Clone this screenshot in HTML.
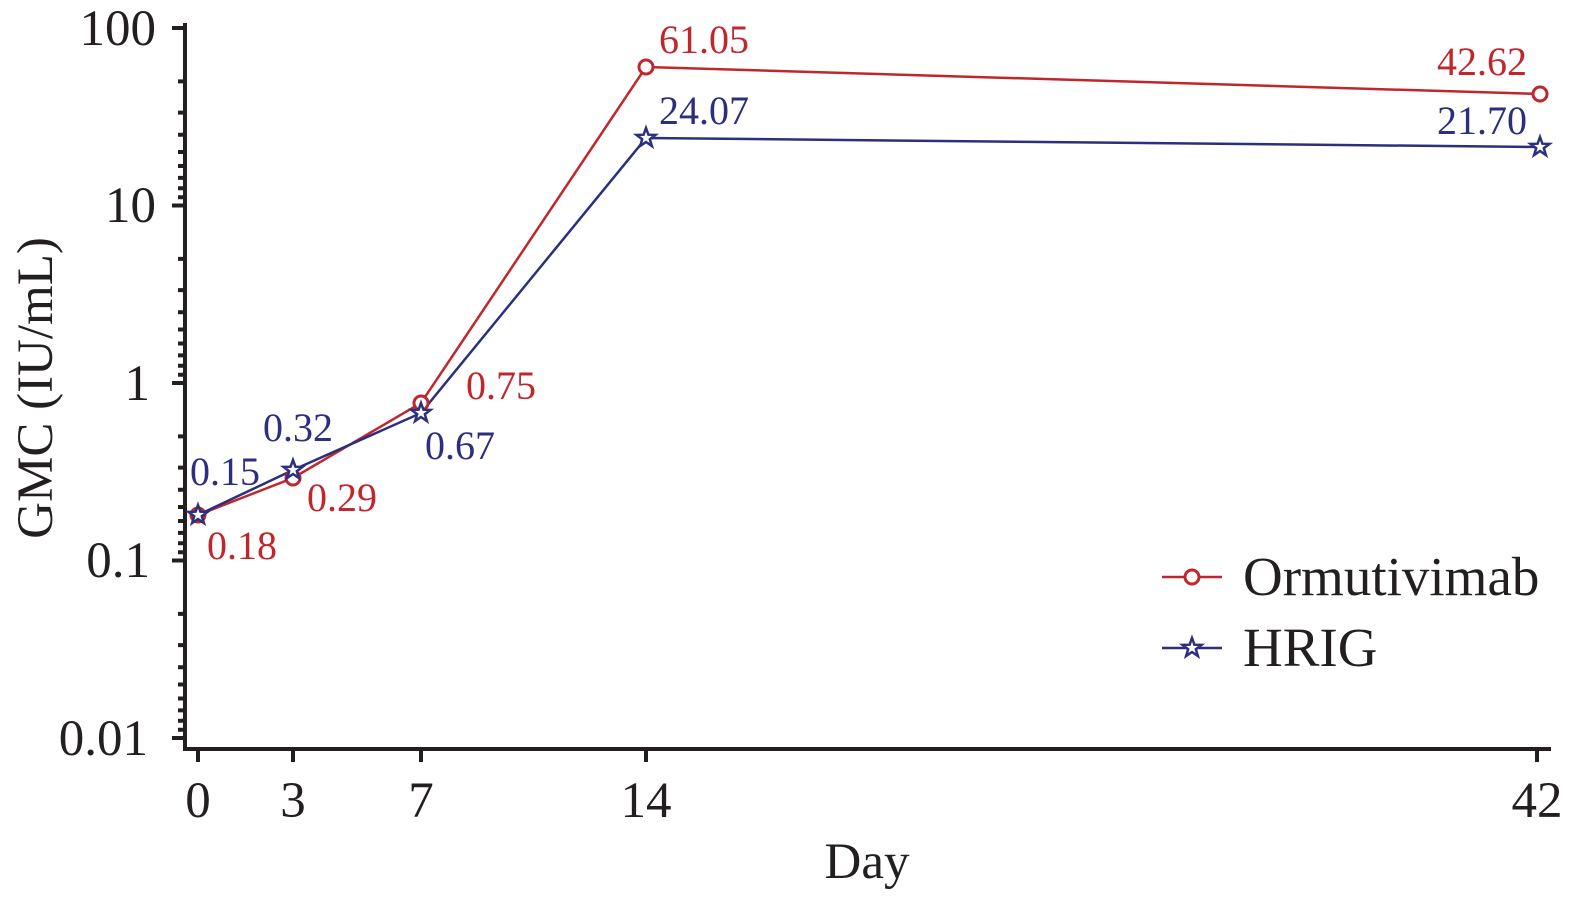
<!DOCTYPE html>
<html><head><meta charset="utf-8"><style>html,body{margin:0;padding:0;background:#fff}</style></head>
<body>
<svg width="1575" height="901" xmlns="http://www.w3.org/2000/svg" font-family="Liberation Serif, serif">
<g stroke="#231f20" stroke-width="4" fill="none">
<path d="M185,23 V749 H1551"/>
<path d="M172,28H185M172,205.5H185M172,383H185M172,560.5H185M172,738H185"/>
<path id="mn" d="M178,81.4H185M178,112.6H185M178,134.8H185M178,152H185M178,166H185M178,177.9H185M178,188.2H185M178,197.3H185"/>
<use href="#mn" y="177.5"/><use href="#mn" y="355"/><use href="#mn" y="532.5"/>
<path d="M198,749V762M293,749V762M421,749V762M646,749V762M1537,749V762"/>
</g>
<g font-size="51" fill="#231f20" text-anchor="end">
<text x="156" y="45">100</text><text x="156" y="222">10</text><text x="150" y="400">1</text><text x="150" y="577">0.1</text><text x="148" y="755">0.01</text>
</g>
<g font-size="51" fill="#231f20" text-anchor="middle">
<text x="198" y="817">0</text><text x="293" y="817">3</text><text x="421" y="817">7</text><text x="646" y="817">14</text><text x="1537" y="817">42</text>
<text x="867" y="878">Day</text>
<text transform="translate(52,388) rotate(-90)">GMC (IU/mL)</text>
</g>
<g fill="none" stroke-width="2.5">
<polyline stroke="#c0272d" points="198,515 293,478 421,403 646,67 1540,94"/>
<polyline stroke="#2b2f7e" points="198,515 293,470 421,413 646,138 1540,147"/>
</g>
<g fill="#fff" stroke="#c0272d" stroke-width="3">
<circle cx="198" cy="515" r="7"/><circle cx="293" cy="478" r="7"/><circle cx="421" cy="403" r="7"/><circle cx="646" cy="67" r="7"/><circle cx="1540" cy="94" r="7"/>
</g>
<defs><path id="st" d="M0,-10 L2.4,-3.3 9.5,-3.1 3.8,1.2 5.9,8.1 0,4 -5.9,8.1 -3.8,1.2 -9.5,-3.1 -2.4,-3.3Z"/></defs>
<g fill="#fff" stroke="#2b2f7e" stroke-width="2.5">
<use href="#st" x="198" y="515"/><use href="#st" x="293" y="470"/><use href="#st" x="421" y="413"/><use href="#st" x="646" y="138"/><use href="#st" x="1540" y="147"/>
</g>
<g font-size="40" fill="#c0272d">
<text x="207" y="559">0.18</text><text x="307" y="511">0.29</text><text x="466" y="399">0.75</text><text x="659" y="53">61.05</text><text x="1437" y="75">42.62</text>
</g>
<g font-size="40" fill="#2b2f7e">
<text x="190" y="485">0.15</text><text x="263" y="441">0.32</text><text x="425" y="459">0.67</text><text x="659" y="124">24.07</text><text x="1437" y="134">21.70</text>
</g>
<line x1="1162" y1="577" x2="1222" y2="577" stroke="#c0272d" stroke-width="2.5"/>
<circle cx="1192" cy="577" r="7" fill="#fff" stroke="#c0272d" stroke-width="3"/>
<line x1="1162" y1="648" x2="1222" y2="648" stroke="#2b2f7e" stroke-width="2.5"/>
<use href="#st" x="1192" y="648" fill="#fff" stroke="#2b2f7e" stroke-width="2.5"/>
<g font-size="55" fill="#231f20"><text x="1243" y="595">Ormutivimab</text><text x="1243" y="666">HRIG</text></g>
</svg>
</body></html>
